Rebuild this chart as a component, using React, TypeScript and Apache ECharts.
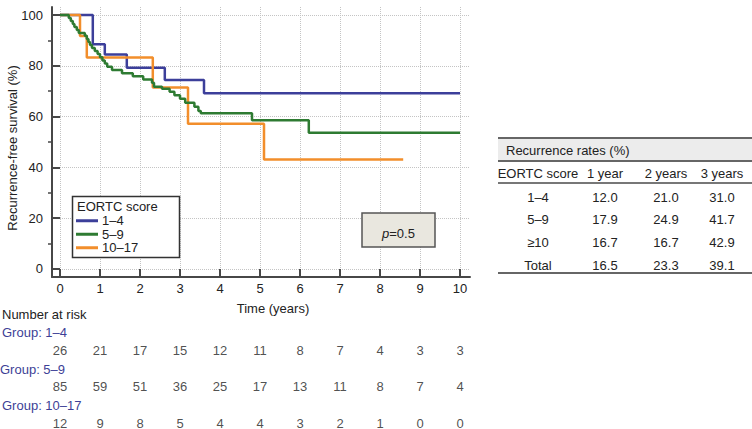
import React, { useEffect, useRef } from "react";
import * as echarts from "echarts";

const FONT = "'Liberation Sans', Arial, Helvetica, sans-serif";

const xTicks = [0, 1, 2, 3, 4, 5, 6, 7, 8, 9, 10];
const yTicks = [0, 20, 40, 60, 80, 100];
const yMinorTicks = [10, 30, 50, 70, 90];

const groupNames = ["1–4", "5–9", "10–17"];
const groupColors = ["#3c3f9a", "#2e7b32", "#f28e2b"];

// Kaplan–Meier step points [time (years), survival (%)]
const curve14: [number, number][] = [
  [0, 100], [0.82, 88.5], [1.12, 84.4], [1.67, 79.2], [2.62, 74.4], [3.6, 69.2], [10, 69.2],
];
const curve59: [number, number][] = [
  [0, 100], [0.22, 98.8], [0.27, 97.6], [0.32, 96.5], [0.36, 95.3], [0.42, 94.1], [0.47, 92.9],
  [0.62, 91.8], [0.67, 90.6], [0.71, 89.4], [0.75, 88.2], [0.8, 87.0], [0.87, 85.8], [0.94, 84.6],
  [1.0, 83.4], [1.06, 82.1], [1.12, 80.9], [1.18, 79.6], [1.3, 78.3], [1.55, 77.1], [1.82, 75.9],
  [2.08, 74.6], [2.3, 73.3], [2.35, 71.8], [2.55, 71.0], [2.74, 69.8], [2.86, 68.4], [3.0, 67.0],
  [3.13, 65.5], [3.36, 63.9], [3.46, 62.2], [3.52, 61.3], [4.8, 58.6], [6.22, 53.6], [10, 53.6],
];
const curve1017: [number, number][] = [
  [0, 100], [0.5, 91.7], [0.67, 83.3], [2.32, 71.5], [3.2, 57.2], [5.1, 43.1], [8.58, 43.1],
];

const riskTimes = [0, 1, 2, 3, 4, 5, 6, 7, 8, 9, 10];
const risk14 = [26, 21, 17, 15, 12, 11, 8, 7, 4, 3, 3];
const risk59 = [85, 59, 51, 36, 25, 17, 13, 11, 8, 7, 4];
const risk1017 = [12, 9, 8, 5, 4, 4, 3, 2, 1, 0, 0];

const pValue = "0.5";
const tableTitle = "Recurrence rates (%)";
const tableHeader = ["EORTC score", "1 year", "2 years", "3 years"];
const tableRows = [
  ["1–4", "12.0", "21.0", "31.0"],
  ["5–9", "17.9", "24.9", "41.7"],
  ["≥10", "16.7", "16.7", "42.9"],
  ["Total", "16.5", "23.3", "39.1"],
];

const txt = (x: number, y: number, text: string, extra: any = {}) => ({
  type: "text",
  x,
  y,
  style: {
    text,
    fill: "#222",
    fontSize: 13,
    fontFamily: FONT,
    align: "center",
    verticalAlign: "middle",
    ...extra,
  },
});

export default function App() {
  const ref = useRef<HTMLDivElement>(null);

  useEffect(() => {
    if (!ref.current) return;
    const chart = echarts.init(ref.current, null, { renderer: "svg" });

    const axisColor = "#474747";
    const splitStyle = { type: "dotted", color: "#c4c4c4", width: 1 };

    const colX = [538, 605, 666, 722];
    const rowY = [197, 219.5, 242, 265];
    const tableGraphics: any[] = [
      { type: "rect", shape: { x: 498, y: 138, width: 254, height: 23 }, style: { fill: "#ececec" } },
      { type: "line", shape: { x1: 498, y1: 138, x2: 752, y2: 138 }, style: { stroke: "#666", lineWidth: 2 } },
      { type: "line", shape: { x1: 498, y1: 161, x2: 752, y2: 161 }, style: { stroke: "#666", lineWidth: 2 } },
      { type: "line", shape: { x1: 498, y1: 183, x2: 752, y2: 183 }, style: { stroke: "#777", lineWidth: 2 } },
      { type: "line", shape: { x1: 498, y1: 273, x2: 752, y2: 273 }, style: { stroke: "#666", lineWidth: 2 } },
      txt(506, 150, tableTitle, { align: "left" }),
      ...tableHeader.map((h, i) => txt(colX[i], 173, h)),
      ...tableRows.flatMap((row, r) => row.map((c, i) => txt(colX[i], rowY[r], c))),
    ];

    const groupLabelColor = "#3d3f96";

    const option: any = {
      animation: false,
      backgroundColor: "#fff",
      textStyle: { fontFamily: FONT },
      grid: [
        { left: 52, right: 282, top: 7, bottom: 152 },
        { left: 52, right: 282, top: 350, height: 73 },
      ],
      xAxis: [
        {
          type: "value",
          gridIndex: 0,
          min: -0.2,
          max: 10.25,
          axisLine: { show: true, onZero: false, lineStyle: { color: axisColor, width: 2 } },
          axisTick: { show: true, customValues: xTicks, inside: true, length: 8, lineStyle: { color: axisColor, width: 2 } },
          axisLabel: { customValues: xTicks, margin: 5, fontSize: 13, color: "#222", fontFamily: FONT },
          splitLine: { show: true, lineStyle: splitStyle },
        },
        { type: "value", gridIndex: 1, min: -0.2, max: 10.25, show: false },
      ],
      yAxis: [
        {
          type: "value",
          gridIndex: 0,
          min: -3.15,
          max: 103.15,
          axisLine: { show: true, onZero: false, lineStyle: { color: axisColor, width: 2 } },
          axisTick: { show: true, customValues: yTicks, inside: true, length: 8, lineStyle: { color: axisColor, width: 2 } },
          axisLabel: { customValues: yTicks, margin: 9, fontSize: 13, color: "#222", fontFamily: FONT },
          splitLine: { show: true, lineStyle: splitStyle },
        },
        {
          type: "value",
          gridIndex: 0,
          min: -3.15,
          max: 103.15,
          position: "left",
          axisLine: { show: false, onZero: false },
          axisTick: { show: true, customValues: yMinorTicks, inside: false, length: 4, lineStyle: { color: axisColor, width: 1.5 } },
          axisLabel: { show: false },
          splitLine: { show: false },
        },
        { type: "value", gridIndex: 1, min: 0, max: 2, inverse: true, show: false },
      ],
      legend: {
        orient: "vertical",
        left: 76,
        top: 214,
        padding: 0,
        itemWidth: 22,
        itemHeight: 3,
        itemGap: 0,
        icon: "rect",
        textStyle: { fontSize: 13, color: "#222", fontFamily: FONT, lineHeight: 13.5, padding: [0, 0, 0, -1] },
        data: groupNames.map((n, i) => ({ name: n, itemStyle: { color: groupColors[i] } })),
        itemStyle: { borderWidth: 0 },
        z: 10,
      },
      series: [
        ...[curve14, curve59, curve1017].map((d, i) => ({
          name: groupNames[i],
          type: "line",
          xAxisIndex: 0,
          yAxisIndex: 0,
          step: "end",
          symbol: "none",
          data: d,
          color: groupColors[i],
          lineStyle: { color: groupColors[i], width: 2.5 },
          z: i === 1 ? 4 : 3,
        })),
        ...[risk14, risk59, risk1017].map((arr, r) => ({
          name: "risk " + groupNames[r],
          type: "scatter",
          xAxisIndex: 1,
          yAxisIndex: 2,
          silent: true,
          symbolSize: 1,
          itemStyle: { color: "rgba(0,0,0,0)" },
          data: arr.map((v, i) => [riskTimes[i], r, v]),
          label: {
            show: true,
            position: "inside",
            formatter: (p: any) => String(p.value[2]),
            fontSize: 13,
            color: "#222",
            fontFamily: FONT,
          },
        })),
      ],
      graphic: [
        // legend box & title
        {
          type: "rect",
          z: 8,
          shape: { x: 72.5, y: 196.5, width: 107, height: 61 },
          style: { fill: "#fff", stroke: "#333", lineWidth: 1.5 },
        },
        { ...txt(77, 206, "EORTC score", { align: "left" }), z: 10 },
        // p-value box
        {
          type: "rect",
          z: 8,
          shape: { x: 362, y: 213, width: 73, height: 34 },
          style: { fill: "#e9e7df", stroke: "#555", lineWidth: 1.5 },
        },
        {
          type: "text",
          z: 10,
          x: 398.5,
          y: 233,
          style: {
            text: "{i|p}=" + pValue,
            fill: "#222",
            fontSize: 13,
            fontFamily: FONT,
            align: "center",
            verticalAlign: "middle",
            rich: { i: { fontStyle: "italic", fontSize: 13, fontFamily: FONT, fill: "#222" } },
          },
        },
        // axis titles
        { ...txt(12, 148, "Recurrence-free survival (%)"), rotation: Math.PI / 2 },
        txt(273, 308, "Time (years)"),
        // number at risk
        txt(2, 314, "Number at risk", { align: "left" }),
        txt(2, 332, "Group: " + groupNames[0], { align: "left", fill: groupLabelColor }),
        txt(0, 369, "Group: " + groupNames[1], { align: "left", fill: groupLabelColor }),
        txt(2, 405, "Group: " + groupNames[2], { align: "left", fill: groupLabelColor }),
        ...tableGraphics,
      ],
    };

    chart.setOption(option);
    return () => chart.dispose();
  }, []);

  return (
    <div
      ref={ref}
      style={{ position: "fixed", left: 0, top: 0, width: 752, height: 429, background: "#fff" }}
    />
  );
}
